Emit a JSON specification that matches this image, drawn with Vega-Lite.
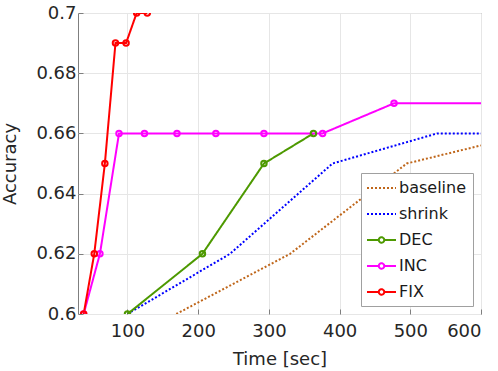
{
  "$schema": "https://vega.github.io/schema/vega-lite/v6.json",
  "width": 403,
  "height": 301,
  "autosize": "none",
  "padding": {"left": 78, "top": 13, "right": 17, "bottom": 57},
  "background": "white",
  "config": {
    "font": "DejaVu Sans",
    "view": {"stroke": "#7f7f7f", "strokeWidth": 1},
    "axis": {
      "labelFontSize": 18,
      "titleFontSize": 18,
      "titleFontWeight": "normal",
      "labelColor": "#262626",
      "titleColor": "#262626",
      "gridColor": "#e6e6e6",
      "gridWidth": 1,
      "domain": false,
      "tickColor": "#7f7f7f",
      "tickSize": -5
    },
    "legend": {
      "orient": "bottom-right",
      "offset": 8,
      "fillColor": "white",
      "strokeColor": "#a0a0a0",
      "padding": 6,
      "labelFontSize": 16,
      "labelColor": "#1a1a1a",
      "symbolSize": 256,
      "symbolStrokeWidth": 2,
      "labelOffset": 14,
      "rowPadding": 9
    }
  },
  "data": {
    "values": [
      {"series": "baseline", "t": 169, "acc": 0.6},
      {"series": "baseline", "t": 330, "acc": 0.62},
      {"series": "baseline", "t": 495, "acc": 0.65},
      {"series": "baseline", "t": 600, "acc": 0.656},
      {"series": "shrink", "t": 100, "acc": 0.6},
      {"series": "shrink", "t": 245, "acc": 0.62},
      {"series": "shrink", "t": 390, "acc": 0.65},
      {"series": "shrink", "t": 538, "acc": 0.66},
      {"series": "shrink", "t": 600, "acc": 0.66},
      {"series": "DEC", "t": 100, "acc": 0.6},
      {"series": "DEC", "t": 206, "acc": 0.62},
      {"series": "DEC", "t": 293, "acc": 0.65},
      {"series": "DEC", "t": 363, "acc": 0.66},
      {"series": "INC", "t": 38, "acc": 0.6},
      {"series": "INC", "t": 61, "acc": 0.62},
      {"series": "INC", "t": 88, "acc": 0.66},
      {"series": "INC", "t": 124, "acc": 0.66},
      {"series": "INC", "t": 170, "acc": 0.66},
      {"series": "INC", "t": 225, "acc": 0.66},
      {"series": "INC", "t": 293, "acc": 0.66},
      {"series": "INC", "t": 376, "acc": 0.66},
      {"series": "INC", "t": 477, "acc": 0.67},
      {"series": "INC", "t": 600, "acc": 0.67},
      {"series": "FIX", "t": 38, "acc": 0.6},
      {"series": "FIX", "t": 53, "acc": 0.62},
      {"series": "FIX", "t": 68, "acc": 0.65},
      {"series": "FIX", "t": 83, "acc": 0.69},
      {"series": "FIX", "t": 98, "acc": 0.69},
      {"series": "FIX", "t": 113, "acc": 0.7},
      {"series": "FIX", "t": 128, "acc": 0.7}
    ]
  },
  "encoding": {
    "x": {
      "field": "t",
      "type": "quantitative",
      "scale": {"domain": [30, 600], "nice": false, "zero": false},
      "axis": {"values": [100, 200, 300, 400, 500, 600], "title": "Time [sec]", "labelPadding": 13, "titlePadding": 10}
    },
    "y": {
      "field": "acc",
      "type": "quantitative",
      "scale": {"domain": [0.6, 0.7], "nice": false, "zero": false},
      "axis": {"values": [0.6, 0.62, 0.64, 0.66, 0.68, 0.7], "format": ".2~f", "title": "Accuracy", "labelPadding": 7, "titlePadding": 16}
    },
    "color": {
      "field": "series",
      "type": "nominal",
      "scale": {
        "domain": ["baseline", "shrink", "DEC", "INC", "FIX"],
        "range": ["#bf661a", "#0000ff", "#4d9900", "#ff00ff", "#ff0000"]
      },
      "legend": {
        "title": null,
        "encode": {
          "symbols": {
            "update": {
              "shape": {"signal": "indexof(['DEC','INC','FIX'], datum.value) >= 0 ? 'M-1.125,0H0.35M1.03,0H2.5M1.03,0A0.34,0.34 0 1 1 0.35,0A0.34,0.34 0 1 1 1.03,0' : 'M-1.125,0H2.5'"},
              "fill": {"value": "transparent"},
              "strokeWidth": {"value": 2}
            }
          }
        }
      }
    }
  },
  "layer": [
    {
      "mark": {"type": "line", "strokeWidth": 2, "clip": true},
      "encoding": {
        "strokeDash": {
          "field": "series",
          "type": "nominal",
          "scale": {
            "domain": ["baseline", "shrink", "DEC", "INC", "FIX"],
            "range": [[2, 2], [2, 2], [1, 0], [1, 0], [1, 0]]
          },
          "legend": {"title": null}
        }
      }
    },
    {
      "transform": [{"filter": "indexof(['DEC','INC','FIX'], datum.series) >= 0 && datum.t < 600"}],
      "mark": {"type": "point", "filled": false, "strokeWidth": 2, "size": 30, "opacity": 1, "clip": true}
    }
  ]
}
